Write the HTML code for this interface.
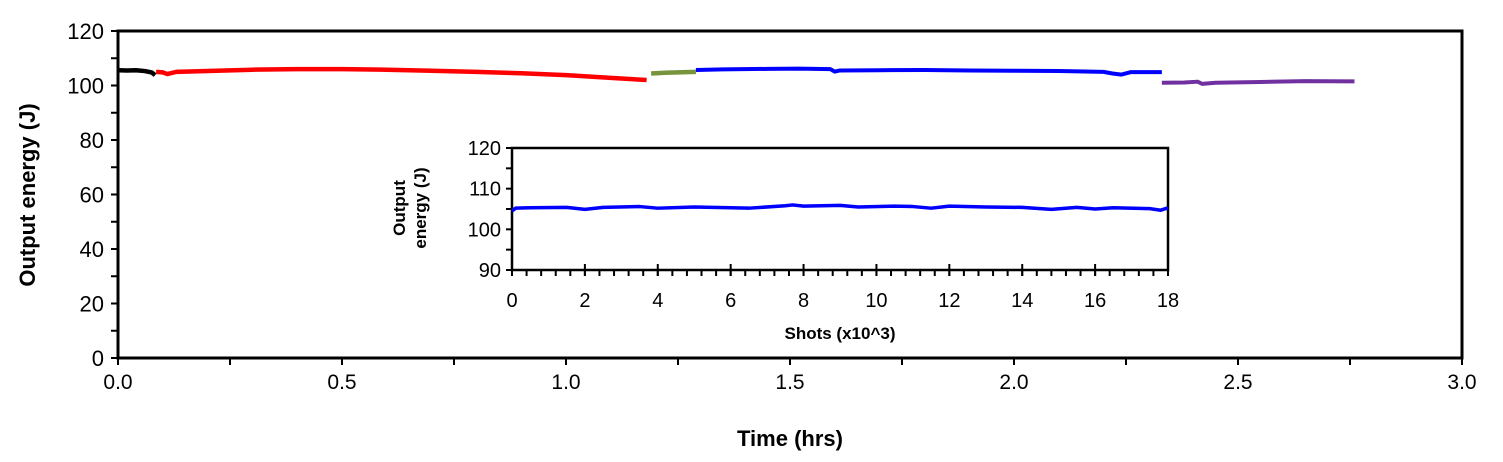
<!DOCTYPE html>
<html><head><meta charset="utf-8"><style>
body{margin:0;background:#fff;}
svg{display:block;font-family:"Liberation Sans",sans-serif;}
</style></head><body>
<svg id="chart" width="1503" height="462"></svg>
<script>
const mainXTicks=[0,0.5,1.0,1.5,2.0,2.5,3.0];
const mainXTickLabels=["0.0","0.5","1.0","1.5","2.0","2.5","3.0"];
const mainYTicks=[0,20,40,60,80,100,120];
const blackX=[0,0.02,0.04,0.06,0.075,0.083];
const blackY=[105.6,105.5,105.6,105.3,104.8,103.8];
const redX=[0.085,0.1,0.11,0.13,0.2,0.3,0.4,0.5,0.6,0.7,0.8,0.9,1.0,1.1,1.18];
const redY=[105,104.8,104.2,105,105.3,105.8,106,106,105.8,105.4,105,104.5,103.8,102.8,102];
const greenX=[1.19,1.22,1.25,1.29];
const greenY=[104.4,104.7,104.8,105];
const blueX=[1.29,1.35,1.45,1.52,1.59,1.6,1.61,1.7,1.8,1.9,2.0,2.1,2.2,2.22,2.24,2.26,2.33];
const blueY=[105.7,105.9,106.1,106.2,106,105.1,105.5,105.6,105.7,105.5,105.4,105.3,105,104.4,104,104.9,104.9];
const purpleX=[2.33,2.38,2.41,2.42,2.45,2.55,2.65,2.76];
const purpleY=[101,101.1,101.4,100.6,101,101.3,101.6,101.5];
const insetXTicks=[0,2,4,6,8,10,12,14,16,18];
const insetYTicks=[90,100,110,120];
const insetX=[0,0.1,0.5,1.5,2,2.5,3.5,4,5,6,6.5,7.5,7.7,8,9,9.5,10.5,11,11.5,12,13,14,14.8,15.5,16,16.5,17.5,17.8,18];
const insetY=[104.5,105.2,105.3,105.4,104.9,105.4,105.6,105.2,105.5,105.3,105.2,105.8,106,105.7,105.9,105.5,105.7,105.6,105.2,105.7,105.5,105.4,104.9,105.4,105,105.3,105.1,104.7,105.3];

const NS="http://www.w3.org/2000/svg";
const svg=document.getElementById('chart');
function mk(tag,attrs,parent){const e=document.createElementNS(NS,tag);for(const k in attrs)e.setAttribute(k,attrs[k]);(parent||svg).appendChild(e);return e;}
const mx=v=>118+v*(1462-118)/3;
const my=v=>358-v*(358-31)/120;
const ix=v=>512+v*(1168-512)/18;
const iy=v=>270-(v-90)*(270-148)/30;

let r=mk('rect',{x:118,y:31,width:1344,height:327,fill:'none',stroke:'#000','stroke-width':3});


for(let v=0;v<=3.001;v+=0.25){let t=mk('line',{x1:mx(v),x2:mx(v),y1:358,y2:365,stroke:'#000','stroke-width':2});

}
mainXTicks.forEach((v,i)=>{let t=mk('text',{x:mx(v),y:389,'font-size':21,'text-anchor':'middle'});t.textContent=mainXTickLabels[i];

});
for(let v=0;v<=120;v+=10){let t=mk('line',{x1:111,x2:118,y1:my(v),y2:my(v),stroke:'#000','stroke-width':2});

}
mainYTicks.forEach(v=>{let t=mk('text',{x:104,y:my(v)+8,'font-size':22,'text-anchor':'end'});t.textContent=v;

});
let xt=mk('text',{x:790,y:446,'font-size':22,'font-weight':'bold','text-anchor':'middle'});xt.textContent='Time (hrs)';


let yt=mk('text',{x:0,y:0,'font-size':22,'font-weight':'bold','text-anchor':'middle',transform:'translate(35,195) rotate(-90)'});yt.textContent='Output energy (J)';



function series(xs,ys,fx,fy,color,name,w){const pts=xs.map((x,i)=>fx(x)+','+fy(ys[i])).join(' ');
const p=mk('polyline',{points:pts,fill:'none',stroke:color,'stroke-width':w,'stroke-linejoin':'round'});

}
series(blackX,blackY,mx,my,'#000','series-black',4.5);
series(redX,redY,mx,my,'#ff0000','series-red',4.5);
series(greenX,greenY,mx,my,'#77933c','series-green',4.5);
series(blueX,blueY,mx,my,'#0000ff','series-blue',4);
series(purpleX,purpleY,mx,my,'#7030a0','series-purple',4);

let ir=mk('rect',{x:512,y:148,width:656,height:122,fill:'#fff',stroke:'#000','stroke-width':2.5});


for(let v=0;v<=18.001;v+=0.4){let t=mk('line',{x1:ix(v),x2:ix(v),y1:270,y2:276,stroke:'#000','stroke-width':2});

}
for(let v=0;v<=18;v+=2){let t=mk('line',{x1:ix(v),x2:ix(v),y1:264,y2:276,stroke:'#000','stroke-width':2});

}
insetXTicks.forEach(v=>{let t=mk('text',{x:ix(v),y:307,'font-size':20,'text-anchor':'middle'});t.textContent=v;

});
for(let v=90;v<=120;v+=5){let t=mk('line',{x1:506,x2:512,y1:iy(v),y2:iy(v),stroke:'#000','stroke-width':2});

}
insetYTicks.forEach(v=>{let t=mk('text',{x:501,y:iy(v)+7,'font-size':20,'text-anchor':'end'});t.textContent=v;

});
let ixt=mk('text',{x:840,y:339,'font-size':17,'font-weight':'bold','text-anchor':'middle'});ixt.textContent='Shots (x10^3)';


let iyt=mk('text',{x:0,y:0,'font-size':17,'font-weight':'bold','text-anchor':'middle',transform:'translate(405,208) rotate(-90)'});iyt.textContent='Output';


let iyt2=mk('text',{x:0,y:0,'font-size':17,'font-weight':'bold','text-anchor':'middle',transform:'translate(426,208) rotate(-90)'});iyt2.textContent='energy (J)';


series(insetX,insetY,ix,iy,'#0000ff','inset-series-blue',3.5);
</script>
</body></html>
